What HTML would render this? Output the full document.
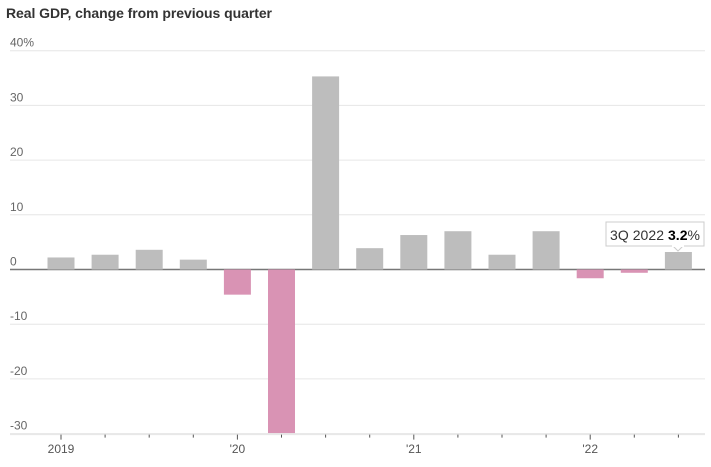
<!DOCTYPE html>
<html><head><meta charset="utf-8"><style>
body{margin:0;background:#fff;font-family:"Liberation Sans",sans-serif}
svg text{font-family:"Liberation Sans",sans-serif}
</style></head><body>
<svg width="711" height="462" viewBox="0 0 711 462">
<text x="6" y="18" font-size="14" font-weight="bold" fill="#333" textLength="266">Real GDP, change from previous quarter</text>
<g id="grid"></g><g id="bars"></g><g id="xaxis"></g>
<g>
<rect x="606" y="222" width="98" height="24" fill="#fff" stroke="#ccc"/>
<path d="M673 246 L678 251 L683 246" fill="#fff" stroke="#ccc"/>
<rect x="672" y="244" width="12" height="3" fill="#fff"/>
<text x="610" y="240" font-size="14" fill="#333" textLength="90">3Q 2022 <tspan font-weight="bold" fill="#000">3.2</tspan>%</text>
</g>
</svg>
<script>
const quarters=["2019Q1","2019Q2","2019Q3","2019Q4","2020Q1","2020Q2","2020Q3","2020Q4","2021Q1","2021Q2","2021Q3","2021Q4","2022Q1","2022Q2","2022Q3"];
const values=[2.2,2.7,3.6,1.8,-4.6,-29.9,35.3,3.9,6.3,7.0,2.7,7.0,-1.6,-0.6,3.2];
const yTicks=[40,30,20,10,0,-10,-20,-30];
const yLabels=["40%","30","20","10","0","-10","-20","-30"];
const xLabels=["2019","","","","'20","","","","'21","","","","'22","",""];
const NS="http://www.w3.org/2000/svg";
const y=v=>269.5-v*5.47;
const x=i=>61+i*44.1;
function mk(t,a,p){const e=document.createElementNS(NS,t);for(const k in a)e.setAttribute(k,a[k]);p.appendChild(e);return e;}
const grid=document.getElementById('grid'),bars=document.getElementById('bars'),xa=document.getElementById('xaxis');
yTicks.forEach((t,i)=>{
 const l=mk('line',{x1:10,x2:705,y1:y(t),y2:y(t),stroke:t===0?'#777':'#e6e6e6','stroke-width':t===0?1.5:1},grid);
 
 
 const tx=mk('text',{x:10,y:y(t)-4,'font-size':12,fill:'#666'},grid);tx.textContent=yLabels[i];
 
 
});
const yMin=y(-30);
values.forEach((v,i)=>{
 const top=Math.min(y(v),y(0)),bot=Math.min(Math.max(y(v),y(0)),yMin);
 const r=mk('rect',{x:x(i)-13.5,y:top,width:27,height:bot-top,fill:v>=0?'#bdbdbd':'#d993b4'},bars);
 
 
});
mk('line',{x1:10,x2:705,y1:yMin+1,y2:yMin+1,stroke:'#e6e6e6'},xa);
quarters.forEach((q,i)=>{
 const lab=xLabels[i];
 mk('line',{x1:x(i),x2:x(i),y1:yMin+1,y2:yMin+(lab?6:4),stroke:'#555'},xa);
 if(lab){const t=mk('text',{x:x(i),y:453,'font-size':12,fill:'#555','text-anchor':'middle'},xa);t.textContent=lab;
 
 }
});
</script>
</body></html>
